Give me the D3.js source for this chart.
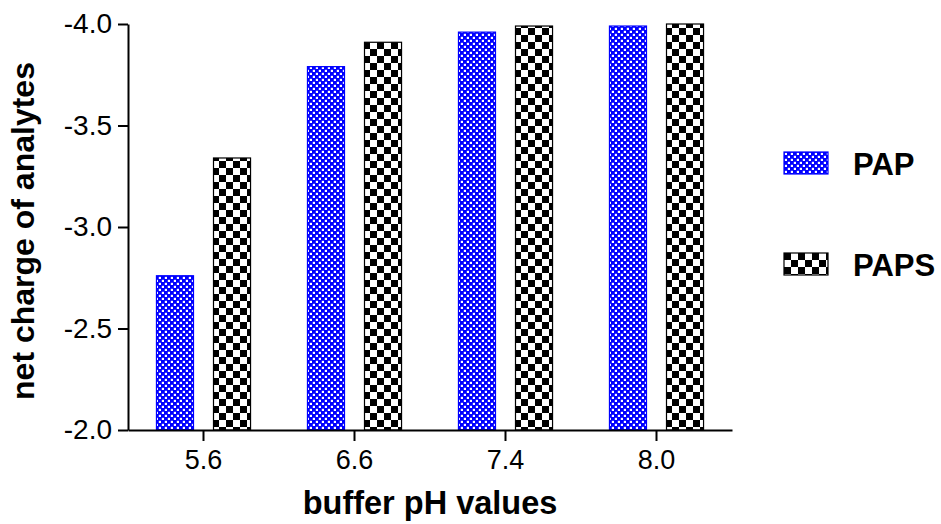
<!DOCTYPE html>
<html>
<head>
<meta charset="utf-8">
<script src="https://cdn.jsdelivr.net/npm/d3@7"></script>
<style>
  html, body { margin: 0; padding: 0; background: #fff; }
  svg { display: block; font-family: "Liberation Sans", Arial, sans-serif; }
</style>
</head>
<body>
<svg id="chart" width="941" height="524"></svg>
<script>
// Net charge of analytes at each buffer pH
const categories = ["5.6", "6.6", "7.4", "8.0"];
const seriesNames = ["PAP", "PAPS"];
const papValues  = [-2.76, -3.79, -3.96, -3.99];
const papsValues = [-3.34, -3.91, -3.99, -4.00];
const yTicks = [-2.0, -2.5, -3.0, -3.5, -4.0];

const svg = d3.select("#chart");
const plot = { left: 128, right: 732, top: 24, bottom: 430 };

// Fill patterns: fine blue check and coarse black check
const defs = svg.append("defs");
const pBlue = defs.append("pattern").attr("id", "blueCheck")
  .attr("patternUnits", "userSpaceOnUse").attr("width", 6).attr("height", 6);
pBlue.append("rect").attr("width", 6).attr("height", 6).attr("fill", "#0000ff");
pBlue.append("rect").attr("x", 0.8).attr("y", 0.8).attr("width", 2.2).attr("height", 2.2).attr("fill", "#fff");
pBlue.append("rect").attr("x", 3.8).attr("y", 3.8).attr("width", 2.2).attr("height", 2.2).attr("fill", "#fff");

const pBlack = defs.append("pattern").attr("id", "blackCheck")
  .attr("patternUnits", "userSpaceOnUse").attr("width", 14).attr("height", 14);
pBlack.append("rect").attr("width", 14).attr("height", 14).attr("fill", "#fff");
pBlack.append("rect").attr("width", 7).attr("height", 7).attr("fill", "#000");
pBlack.append("rect").attr("x", 7).attr("y", 7).attr("width", 7).attr("height", 7).attr("fill", "#000");

const fills = { PAP: "url(#blueCheck)", PAPS: "url(#blackCheck)" };
const strokes = { PAP: "#0000ff", PAPS: "#000" };

const x = d3.scaleBand().domain(categories).range([plot.left, plot.right]).padding(0);
const inner = d3.scaleBand().domain(seriesNames).range([0, x.bandwidth()])
  .paddingInner(0.333).paddingOuter(0.49);
const y = d3.scaleLinear().domain([-2, -4]).range([plot.bottom, plot.top]);

const rows = categories.map((c, i) => ({ cat: c, PAP: papValues[i], PAPS: papsValues[i] }));

// Bars
const groups = svg.append("g").selectAll("g").data(rows).join("g")
  .attr("transform", d => `translate(${x(d.cat)},0)`);
groups.selectAll("rect")
  .data(d => seriesNames.map(s => ({ s, v: d[s] })))
  .join("rect")
  .attr("x", d => inner(d.s) + 0.5)
  .attr("y", d => y(d.v))
  .attr("width", inner.bandwidth() - 1)
  .attr("height", d => y(-2) - y(d.v))
  .attr("fill", d => fills[d.s])
  .attr("stroke", d => strokes[d.s])
  .attr("stroke-width", 1.2);

// Y axis
const yAxis = d3.axisLeft(y).tickValues(yTicks)
  .tickFormat(d => d3.format(".1f")(d).replace("\u2212", "-"))
  .tickSize(10).tickPadding(6).tickSizeOuter(0);
const gy = svg.append("g").attr("transform", `translate(${plot.left},0)`).call(yAxis);
gy.selectAll("text").attr("font-size", 28).attr("fill", "#000");
gy.selectAll("line, path").attr("stroke", "#000").attr("stroke-width", 2);

// X axis
const xAxis = d3.axisBottom(x).tickSize(11).tickPadding(9).tickSizeOuter(0);
const gx = svg.append("g").attr("transform", `translate(0,${plot.bottom})`).call(xAxis);
gx.selectAll("text").attr("font-size", 27).attr("fill", "#000");
gx.selectAll("line, path").attr("stroke", "#000").attr("stroke-width", 2);

// Axis titles
svg.append("text").attr("x", 430).attr("y", 514).attr("text-anchor", "middle")
  .attr("font-size", 32.5).attr("font-weight", "bold").text("buffer pH values");
svg.append("text").attr("transform", "translate(34,231) rotate(-90)")
  .attr("text-anchor", "middle").attr("font-size", 32).attr("font-weight", "bold")
  .text("net charge of analytes");

// Legend
const legend = svg.append("g").selectAll("g").data(seriesNames).join("g")
  .attr("transform", (d, i) => `translate(784,${152 + i * 101})`);
legend.append("rect").attr("width", 44).attr("height", 22)
  .attr("fill", d => fills[d]).attr("stroke", d => strokes[d]).attr("stroke-width", 1.2);
legend.append("text").attr("x", 69).attr("y", 23)
  .attr("font-size", 31).attr("font-weight", "bold").text(d => d);
</script>
</body>
</html>
